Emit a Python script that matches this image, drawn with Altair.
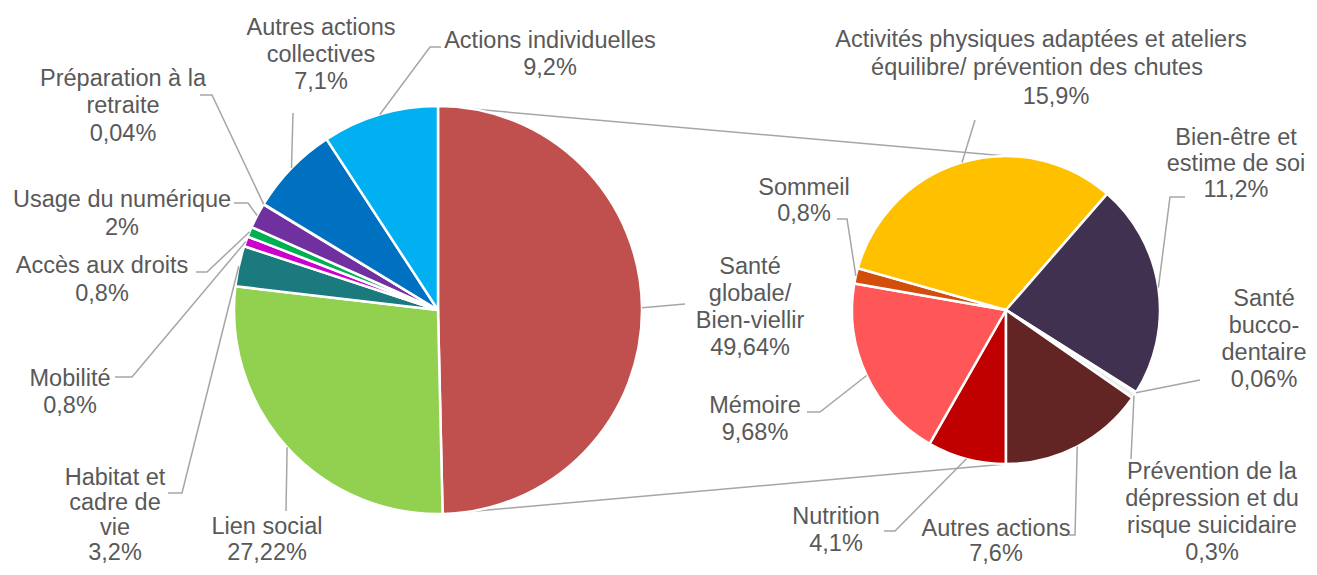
import math
import altair as alt
import pandas as pd

# ---------------- data ----------------
main_names = ["Santé globale/ Bien-viellir", "Lien social", "Habitat et cadre de vie",
              "Mobilité", "Accès aux droits", "Usage du numérique",
              "Préparation à la retraite", "Autres actions collectives", "Actions individuelles"]
main_values = [49.64, 27.22, 3.2, 0.8, 0.8, 2.0, 0.04, 7.1, 9.2]
main_pct = ["49,64%", "27,22%", "3,2%", "0,8%", "0,8%", "2%", "0,04%", "7,1%", "9,2%"]
main_colors = ["#C0504D", "#92D050", "#1B7A7D", "#CC00CC", "#00B050", "#7030A0",
               "#FFC000", "#0070C0", "#00B0F0"]

sub_names = ["Nutrition", "Mémoire", "Sommeil",
             "Activités physiques adaptées et ateliers équilibre/ prévention des chutes",
             "Bien-être et estime de soi", "Santé bucco-dentaire",
             "Prévention de la dépression et du risque suicidaire", "Autres actions"]
sub_values = [4.1, 9.68, 0.8, 15.9, 11.2, 0.06, 0.3, 7.6]
sub_pct = ["4,1%", "9,68%", "0,8%", "15,9%", "11,2%", "0,06%", "0,3%", "7,6%"]
sub_colors = ["#C00000", "#FF5757", "#D24E0A", "#FFC000", "#403151", "#F2F2F2",
              "#EDEDED", "#632523"]

# label wrapping (text lines, last line = percentage)
label_lines = {
    "Santé globale/ Bien-viellir": ["Santé", "globale/", "Bien-viellir"],
    "Lien social": ["Lien social"],
    "Habitat et cadre de vie": ["Habitat et", "cadre de", "vie"],
    "Mobilité": ["Mobilité"],
    "Accès aux droits": ["Accès aux droits"],
    "Usage du numérique": ["Usage du numérique"],
    "Préparation à la retraite": ["Préparation à la", "retraite"],
    "Autres actions collectives": ["Autres actions", "collectives"],
    "Actions individuelles": ["Actions individuelles"],
    "Nutrition": ["Nutrition"],
    "Mémoire": ["Mémoire"],
    "Sommeil": ["Sommeil"],
    "Activités physiques adaptées et ateliers équilibre/ prévention des chutes":
        ["Activités physiques adaptées et ateliers", "équilibre/ prévention des chutes"],
    "Bien-être et estime de soi": ["Bien-être et", "estime de soi"],
    "Santé bucco-dentaire": ["Santé", "bucco-", "dentaire"],
    "Prévention de la dépression et du risque suicidaire":
        ["Prévention de la", "dépression et du", "risque suicidaire"],
    "Autres actions": ["Autres actions"],
}

# ---------------- layout (page pixels) ----------------
OFF = 8
W, H = 1301, 559
C1, R1 = (438, 310), 204        # main pie
C2, R2 = (1006, 310), 154       # secondary pie
START1 = 0.0
START2 = math.pi

# label placement: x centre(s), line centre ys, leader waypoints after the slice edge point
label_layout = {
    "Santé globale/ Bien-viellir": (750, [267, 294, 321, 348], [(685, 304)]),
    "Lien social": (267, [527, 553], [(286, 511)]),
    "Habitat et cadre de vie": (115, [478, 503, 528, 553], [(182, 493), (168, 493)]),
    "Mobilité": (70, [379, 406], [(132, 377), (115, 377)]),
    "Accès aux droits": (102, [266, 294], [(207, 272), (196, 272)]),
    "Usage du numérique": (122, [200, 228], [(248, 203), (234, 203)]),
    "Préparation à la retraite": (123, [79, 106, 134], [(212, 95), (200, 95)]),
    "Autres actions collectives": (321, [28, 55, 82], [(293, 113)]),
    "Actions individuelles": (550, [41, 68], [(430, 47), (441, 47)]),
    "Nutrition": (836, [517, 544], [(895, 531), (884, 531)]),
    "Mémoire": (755, [406, 433], [(820, 412), (807, 412)]),
    "Sommeil": (804, [188, 214], [(847, 219), (837, 219)]),
    "Activités physiques adaptées et ateliers équilibre/ prévention des chutes":
        ([1041, 1037, 1056], [40, 68, 97], [(975, 120)]),
    "Bien-être et estime de soi": (1236, [138, 164, 190], [(1170, 197), (1185, 197)]),
    "Santé bucco-dentaire": (1264, [299, 326, 353, 380], [(1200, 380)]),
    "Prévention de la dépression et du risque suicidaire":
        (1212, [472, 499, 526, 553], [(1131, 459)]),
    "Autres actions": (996, [529, 554], [(1075, 535), (1069, 535)]),
}


def edge_points(values, center, radius, start):
    total = sum(values)
    pts, acc = [], 0.0
    bounds = []
    for v in values:
        a0 = start + 2 * math.pi * acc / total
        acc += v
        a1 = start + 2 * math.pi * acc / total
        m = (a0 + a1) / 2
        pts.append((center[0] + radius * math.sin(m), center[1] - radius * math.cos(m)))
        bounds.append((a0, a1))
    return pts, bounds


pts1, bounds1 = edge_points(main_values, C1, R1, START1)
pts2, bounds2 = edge_points(sub_values, C2, R2, START2)

# ---------------- tables ----------------
left_df = pd.DataFrame({"name": main_names, "value": main_values, "idx": range(len(main_names))})
right_df = pd.DataFrame({"name": sub_names, "value": sub_values, "idx": range(len(sub_names))})

leader_rows, text_rows = [], []
for names, pcts, pts in ((main_names, main_pct, pts1), (sub_names, sub_pct, pts2)):
    for n, p, e in zip(names, pcts, pts):
        xs, ys, way = label_layout[n]
        lines = label_lines[n] + [p]
        if not isinstance(xs, list):
            xs = [xs] * len(lines)
        for i, (t, lx, ly) in enumerate(zip(lines, xs, ys)):
            text_rows.append({"text": t, "x": lx - OFF, "y": ly - OFF})
        chain = [e] + way
        for k, (px, py) in enumerate(chain):
            leader_rows.append({"lid": n, "k": k, "x": px - OFF, "y": py - OFF})

# connector lines between the split slice and the secondary pie
a_end = bounds1[0][1]
conn_df = pd.DataFrame({
    "x": [C1[0] - OFF, C1[0] + R1 * math.sin(a_end) - OFF],
    "y": [C1[1] - R1 - OFF, C1[1] - R1 * math.cos(a_end) - OFF],
    "x2": [C2[0] - OFF, C2[0] - OFF],
    "y2": [C2[1] - R2 - OFF, C2[1] + R2 - OFF],
})

leader_df = pd.DataFrame(leader_rows)
text_df = pd.DataFrame(text_rows)

X = lambda f: alt.X(f, scale=None, axis=None)
Y = lambda f: alt.Y(f, scale=None, axis=None)

connectors = alt.Chart(conn_df).mark_rule(color="#A6A6A6", strokeWidth=1.5).encode(
    x=X("x:Q"), y=Y("y:Q"), x2="x2:Q", y2="y2:Q")

left = alt.Chart(left_df).mark_arc(outerRadius=R1, stroke="white", strokeWidth=2.5).encode(
    theta=alt.Theta("value:Q", stack=True, scale=alt.Scale(range=[START1, START1 + 2 * math.pi])),
    order=alt.Order("idx:Q"),
    color=alt.Color("name:N", scale=alt.Scale(domain=main_names, range=main_colors), legend=None),
    x=alt.value(C1[0] - OFF), y=alt.value(C1[1] - OFF),
)

right = alt.Chart(right_df).mark_arc(outerRadius=R2, stroke="white", strokeWidth=2.5).encode(
    theta=alt.Theta("value:Q", stack=True, scale=alt.Scale(range=[START2, START2 + 2 * math.pi])),
    order=alt.Order("idx:Q"),
    color=alt.Color("name:N", scale=alt.Scale(domain=sub_names, range=sub_colors), legend=None),
    x=alt.value(C2[0] - OFF), y=alt.value(C2[1] - OFF),
)

leaders = alt.Chart(leader_df).mark_line(color="#A6A6A6", strokeWidth=1.5).encode(
    x=X("x:Q"), y=Y("y:Q"), detail="lid:N", order="k:Q")

texts = alt.Chart(text_df).mark_text(
    font="Liberation Sans", fontSize=23.5, color="#595959", align="center", baseline="middle"
).encode(x=X("x:Q"), y=Y("y:Q"), text="text:N")

chart = alt.layer(connectors, left, right, leaders, texts).resolve_scale(
    theta="independent", color="independent"
).properties(width=W, height=H, padding=0, autosize="none").configure_view(stroke=None)

chart.save("out.html", embed_options={"renderer": "svg", "actions": False})
